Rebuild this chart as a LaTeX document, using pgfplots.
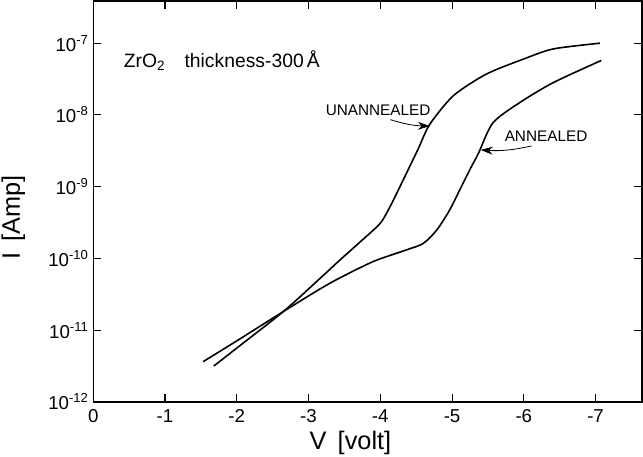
\documentclass[border=0pt]{standalone}
\usepackage{pgfplots}
\pgfplotsset{compat=1.18}
\usepackage{fontspec}
\setmainfont{Liberation Sans}
\usetikzlibrary{arrows.meta}
\begin{document}
\begin{tikzpicture}
\begin{axis}[
	scale only axis,
	width=412pt, height=301pt,
	x dir=reverse,
	xmin=-7.65, xmax=0,
	ymode=log,
	ymin=1e-12, ymax=3.9e-7,
	axis line style={line width=1.1pt},
	tick style={line width=0.8pt, black},
	major tick length=6pt,
	xtick={0,-1,-2,-3,-4,-5,-6,-7},
	xticklabels={0,-1,-2,-3,-4,-5,-6,-7},
	ytick={1e-12,1e-11,1e-10,1e-9,1e-8,1e-7},
	yticklabels={10\textsuperscript{-12},10\textsuperscript{-11},10\textsuperscript{-10},10\textsuperscript{-9},10\textsuperscript{-8},10\textsuperscript{-7}},
	yminorticks=false,
	tick label style={font=\fontsize{14}{15}\selectfont},
	xticklabel style={yshift=-2pt},
	xlabel={V\, [volt]},
	ylabel={I\, [Amp]},
	label style={font=\fontsize{19}{20}\selectfont},
	xlabel style={yshift=0pt, xshift=-13pt},
	ylabel style={at={(ticklabel cs:0.46)}, yshift=10.5pt},
	/pgf/number format/assume math mode=true,
]
% unannealed
\addplot[black, line width=1.2pt, smooth, tension=0.45] coordinates {
	(-1.68,3.16e-12) (-2.0,5.62e-12) (-2.65,1.82e-11) (-3.17,5.37e-11)
	(-3.44,9.55e-11) (-3.72,1.70e-10) (-4.0,3.09e-10) (-4.14,5.37e-10)
	(-4.23,8.13e-10) (-4.37,1.58e-9) (-4.53,3.39e-9) (-4.69,7.41e-9)
	(-5.02,1.86e-8) (-5.48,3.72e-8) (-6.0,6.03e-8) (-6.41,8.32e-8)
	(-7.06,1.0e-7)};
% annealed
\addplot[black, line width=1.2pt, smooth, tension=0.45] coordinates {
	(-1.53,3.63e-12) (-2.0,7.08e-12) (-2.65,1.82e-11) (-3.17,3.80e-11)
	(-3.44,5.37e-11) (-3.91,9.12e-11) (-4.37,1.32e-10) (-4.60,1.62e-10)
	(-4.79,2.51e-10) (-4.97,4.79e-10) (-5.11,9.12e-10) (-5.25,1.74e-9)
	(-5.37,2.95e-9) (-5.57,7.76e-9) (-5.94,1.48e-8) (-6.41,2.82e-8)
	(-7.08,5.75e-8)};
\node[anchor=west, font=\fontsize{14.5}{15}\selectfont] at (axis cs:-0.36,5.8e-8) {ZrO\textsubscript{2}\quad thickness-300\,Å};
\node[font=\fontsize{11.5}{12}\selectfont] at (axis cs:-3.97,1.15e-8) {UNANNEALED};
\draw[line width=0.6pt, -{Stealth[length=9pt,width=6pt]}] (axis cs:-4.14,8.6e-9) to[bend right=8] (axis cs:-4.69,7.0e-9);
\node[font=\fontsize{11.5}{12}\selectfont] at (axis cs:-6.31,5.0e-9) {ANNEALED};
\draw[line width=0.6pt, -{Stealth[length=9pt,width=6pt]}] (axis cs:-6.11,3.7e-9) to[bend left=8] (axis cs:-5.40,3.25e-9);
\end{axis}
\pgfresetboundingbox
\useasboundingbox ([shift={(-70pt,-41pt)}]current axis.south west) rectangle ([shift={(0.6pt,0.6pt)}]current axis.north east);
\end{tikzpicture}
\end{document}
